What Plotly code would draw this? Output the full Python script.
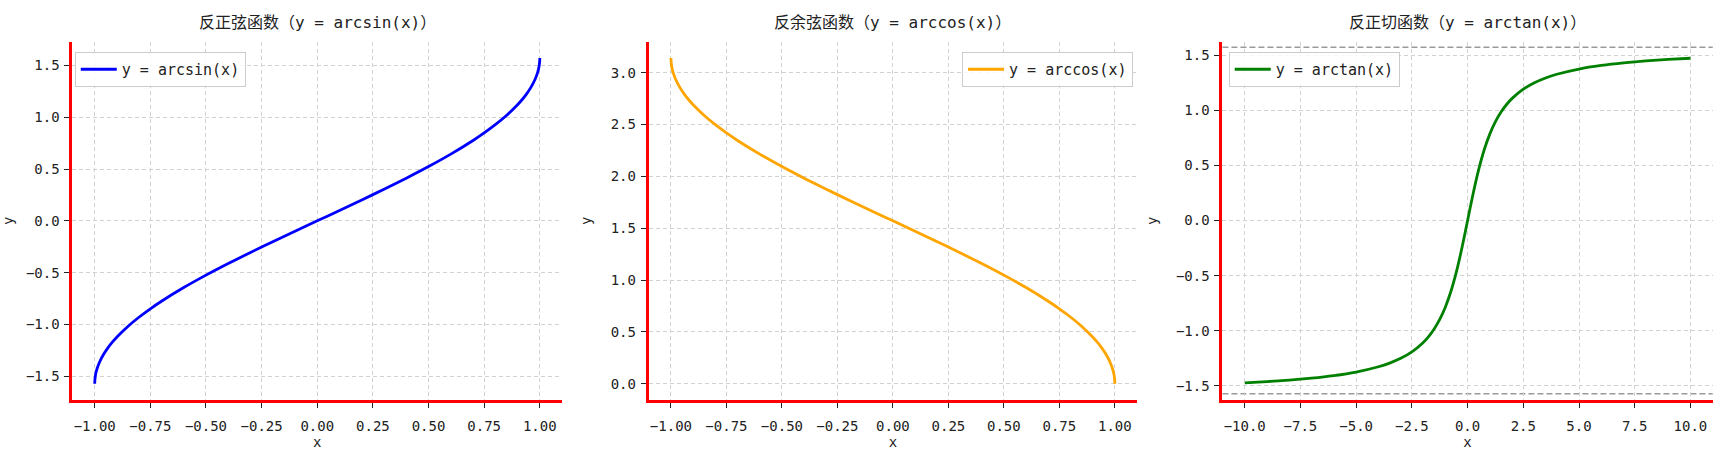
import plotly.graph_objects as go

# ---- data ----
x_inv = [-1.0, -0.999, -0.995, -0.99, -0.98, -0.96, -0.94, -0.92, -0.9, -0.85, -0.8, -0.75, -0.7,
         -0.6, -0.5, -0.4, -0.3, -0.2, -0.1, 0.0, 0.1, 0.2, 0.3, 0.4, 0.5, 0.6, 0.7, 0.75, 0.8,
         0.85, 0.9, 0.92, 0.94, 0.96, 0.98, 0.99, 0.995, 0.999, 1.0]
y_arcsin = [-1.5708, -1.5261, -1.4706, -1.4293, -1.3705, -1.2870, -1.2226, -1.1681, -1.1198,
            -1.0160, -0.9273, -0.8481, -0.7754, -0.6435, -0.5236, -0.4115, -0.3047, -0.2014,
            -0.1002, 0.0, 0.1002, 0.2014, 0.3047, 0.4115, 0.5236, 0.6435, 0.7754, 0.8481, 0.9273,
            1.0160, 1.1198, 1.1681, 1.2226, 1.2870, 1.3705, 1.4293, 1.4706, 1.5261, 1.5708]
y_arccos = [3.1416, 3.0969, 3.0414, 3.0001, 2.9413, 2.8578, 2.7934, 2.7389, 2.6906, 2.5868,
            2.4981, 2.4189, 2.3462, 2.2143, 2.0944, 1.9823, 1.8755, 1.7722, 1.6710, 1.5708,
            1.4706, 1.3694, 1.2661, 1.1593, 1.0472, 0.9273, 0.7954, 0.7227, 0.6435, 0.5548,
            0.4510, 0.4027, 0.3482, 0.2838, 0.2003, 0.1415, 0.1002, 0.0447, 0.0]
x_tan = [-10, -9, -8, -7, -6, -5, -4, -3.5, -3, -2.5, -2, -1.75, -1.5, -1.25, -1, -0.75, -0.5,
         -0.25, 0, 0.25, 0.5, 0.75, 1, 1.25, 1.5, 1.75, 2, 2.5, 3, 3.5, 4, 5, 6, 7, 8, 9, 10]
y_arctan = [-1.4711, -1.4601, -1.4464, -1.4289, -1.4056, -1.3734, -1.3258, -1.2925, -1.2490,
            -1.1903, -1.1071, -1.0517, -0.9828, -0.8961, -0.7854, -0.6435, -0.4636, -0.2450,
            0.0, 0.2450, 0.4636, 0.6435, 0.7854, 0.8961, 0.9828, 1.0517, 1.1071, 1.1903,
            1.2490, 1.2925, 1.3258, 1.3734, 1.4056, 1.4289, 1.4464, 1.4601, 1.4711]
asymptotes = [1.5708, -1.5708]

titles = ["反正弦函数（y = arcsin(x)）", "反余弦函数（y = arccos(x)）", "反正切函数（y = arctan(x)）"]
names = ["y = arcsin(x)", "y = arccos(x)", "y = arctan(x)"]
colors = ["#0000ff", "#ffa500", "#008000"]

x_ticks_inv = [-1.0, -0.75, -0.5, -0.25, 0.0, 0.25, 0.5, 0.75, 1.0]
x_ticks_tan = [-10.0, -7.5, -5.0, -2.5, 0.0, 2.5, 5.0, 7.5, 10.0]
y_ticks_sym = [-1.5, -1.0, -0.5, 0.0, 0.5, 1.0, 1.5]
y_ticks_cos = [0.0, 0.5, 1.0, 1.5, 2.0, 2.5, 3.0]

FONT = "DejaVu Sans Mono, Noto Sans CJK SC, sans-serif"
TXT = "#222222"
W, H = 1721, 453

fig = go.Figure()
fig.add_trace(go.Scatter(x=x_inv, y=y_arcsin, mode="lines", name=names[0],
                         line=dict(color=colors[0], width=2.8, shape="spline", smoothing=0.6),
                         xaxis="x", yaxis="y", legend="legend"))
fig.add_trace(go.Scatter(x=x_inv, y=y_arccos, mode="lines", name=names[1],
                         line=dict(color=colors[1], width=2.8, shape="spline", smoothing=0.6),
                         xaxis="x2", yaxis="y2", legend="legend2"))
fig.add_trace(go.Scatter(x=x_tan, y=y_arctan, mode="lines", name=names[2],
                         line=dict(color=colors[2], width=2.8, shape="spline", smoothing=0.6),
                         xaxis="x3", yaxis="y3", legend="legend3"))

for a in asymptotes:
    fig.add_shape(type="line", xref="x3 domain", yref="y3", x0=0, x1=1, y0=a, y1=a,
                  line=dict(color="#9a9a9a", width=1.5, dash="6px,3px"), layer="below")

xdoms = [[66.7 / W, 558 / W], [645 / W, 1135 / W], [1220.7 / W, 1712.7 / W]]
ydom = [1 - 400 / H, 1 - 41.7 / H]

common = dict(showline=True, linecolor="#ff0000", linewidth=3, mirror=False,
              showgrid=True, gridcolor="#d2d2d2", griddash="4px,3px", gridwidth=1,
              ticks="outside", ticklen=5, tickwidth=1, tickcolor="#222222",
              zeroline=False, tickfont=dict(family=FONT, size=14, color=TXT))

layout = dict(width=W, height=H, margin=dict(l=0, r=0, t=0, b=0),
              paper_bgcolor="white", plot_bgcolor="white", showlegend=True,
              font=dict(family=FONT, size=14, color=TXT))

xranges = [[-1.1, 1.1], [-1.1, 1.1], [-11, 11]]
yranges = [[-1.7279, 1.7279], [-0.1571, 3.2987], [-1.627, 1.621]]
xtv = [x_ticks_inv, x_ticks_inv, x_ticks_tan]
xfmt = [".2f", ".2f", ".1f"]
ytv = [y_ticks_sym, y_ticks_cos, y_ticks_sym]

for i in range(3):
    sx = "" if i == 0 else str(i + 1)
    layout["xaxis" + sx] = dict(common, domain=xdoms[i], range=xranges[i], tickvals=xtv[i],
                                tickformat=xfmt[i], anchor="y" + sx, ticklabelstandoff=6,
                                title=dict(text="x", standoff=0,
                                           font=dict(family=FONT, size=14, color=TXT)))
    layout["yaxis" + sx] = dict(common, domain=ydom, range=yranges[i], tickvals=ytv[i],
                                tickformat=".1f", anchor="x" + sx, ticklabelstandoff=2,
                                title=dict(text="y", standoff=16,
                                           font=dict(family=FONT, size=14, color=TXT)))

legend_common = dict(bgcolor="rgba(255,255,255,0.85)", bordercolor="#cccccc", borderwidth=1,
                     font=dict(family=FONT, size=15, color=TXT), yanchor="top",
                     itemwidth=36, visible=True)
layout["legend"] = dict(legend_common, x=69 / W, xanchor="left", y=1 - 52 / H)
layout["legend2"] = dict(legend_common, x=1131 / W, xanchor="right", y=1 - 52 / H)
layout["legend3"] = dict(legend_common, x=1227 / W, xanchor="left", y=1 - 52 / H)

annotations = []
for i in range(3):
    annotations.append(dict(text=titles[i], xref="paper", yref="paper",
                            x=(xdoms[i][0] + xdoms[i][1]) / 2, y=1 - 22 / H,
                            xanchor="center", yanchor="middle", showarrow=False,
                            font=dict(family=FONT, size=16, color=TXT)))
layout["annotations"] = annotations

fig.update_layout(**layout)
fig.write_html("out.html", config={"displayModeBar": False},
               post_script="document.body.style.margin='0';document.body.style.padding='0';"
                           "document.body.style.overflow='hidden';")
